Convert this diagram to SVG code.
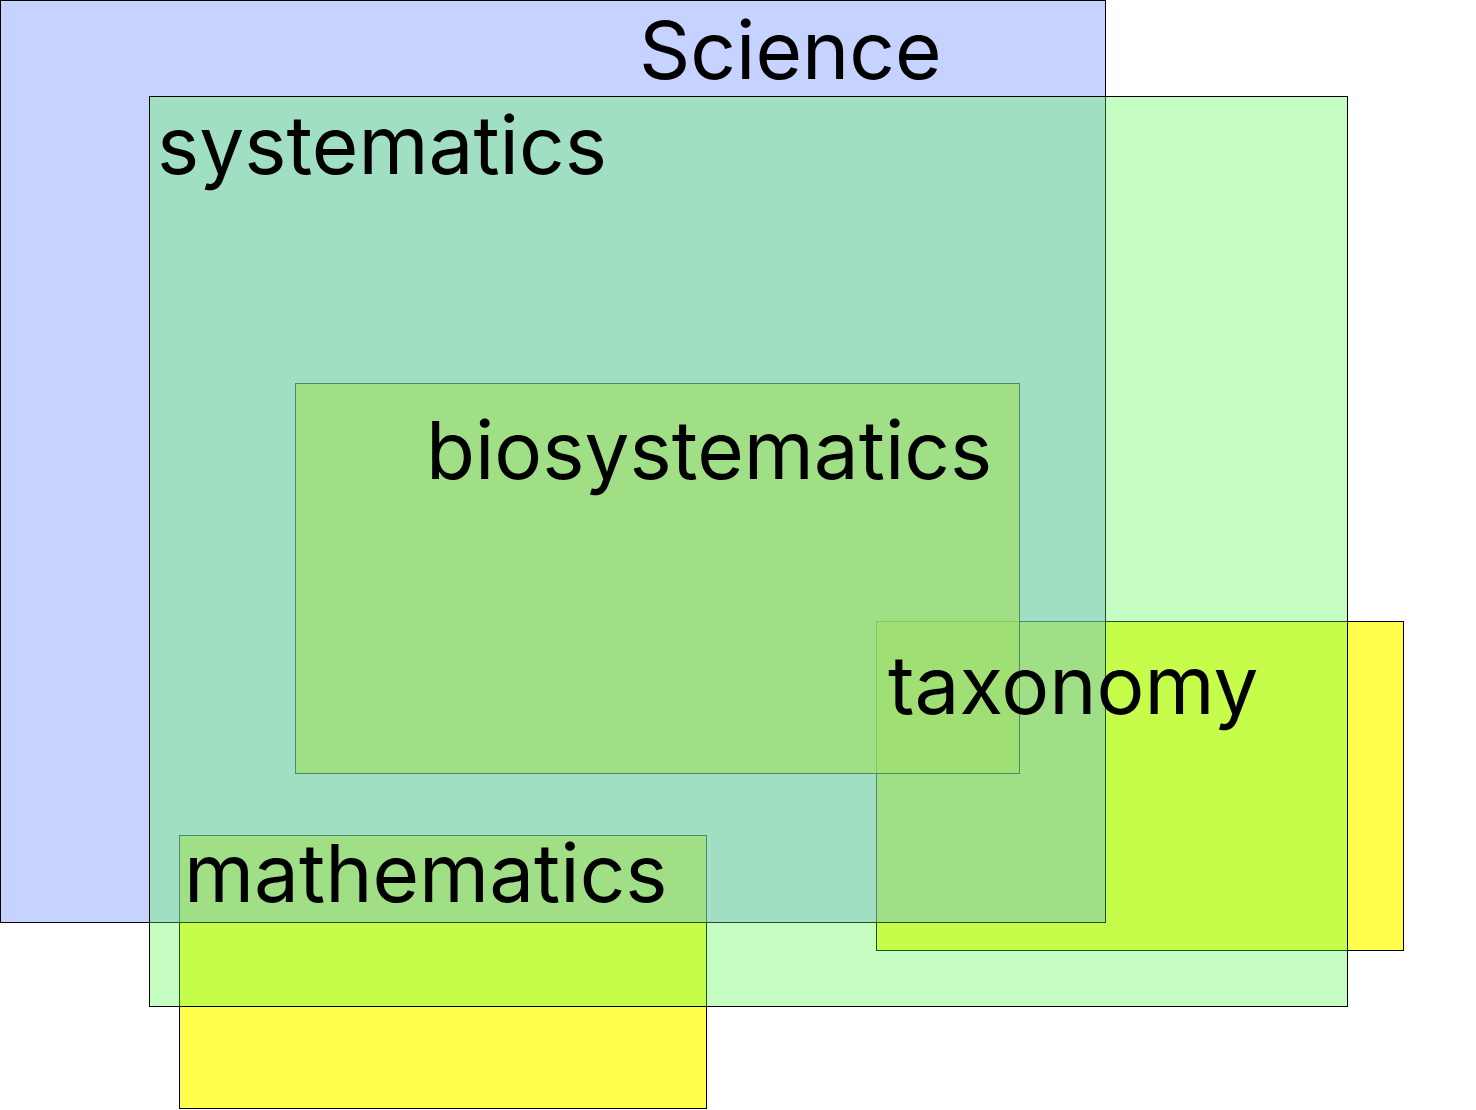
<svg xmlns="http://www.w3.org/2000/svg" width="1476" height="1110" viewBox="0 0 1476 1110">
<style>
.y{fill:#ffff00;fill-opacity:0.7;stroke:#000;stroke-width:1}
.sci{fill:rgb(141,165,255);fill-opacity:0.5;stroke:#000;stroke-width:1}
.sys{fill:rgb(84,250,72);fill-opacity:0.333;stroke:#000;stroke-width:1}
text{font-family:Inter,"Liberation Sans",sans-serif;font-size:80px;fill:#000}
</style>
<rect width="1476" height="1110" fill="#fff"/>
<g id="taxonomy"><rect class="y" x="876.5" y="621.5" width="527" height="329"/></g>
<g id="mathematics"><rect class="y" x="179.5" y="835.5" width="527" height="273"/></g>
<g id="biosystematics"><rect class="y" x="295.5" y="383.5" width="724" height="390"/></g>
<g id="science"><rect class="sci" x="0.5" y="0.5" width="1105" height="922"/></g>
<g id="systematics"><rect class="sys" x="149.5" y="96.5" width="1198" height="910"/></g>
<g id="labels">
<text x="639" y="79">Science</text>
<text x="157" y="174">systematics</text>
<text x="426" y="479">biosystematics</text>
<text x="888" y="714">taxonomy</text>
<text x="184" y="902">mathematics</text>
</g>
<g id="connectors"></g>
</svg>
